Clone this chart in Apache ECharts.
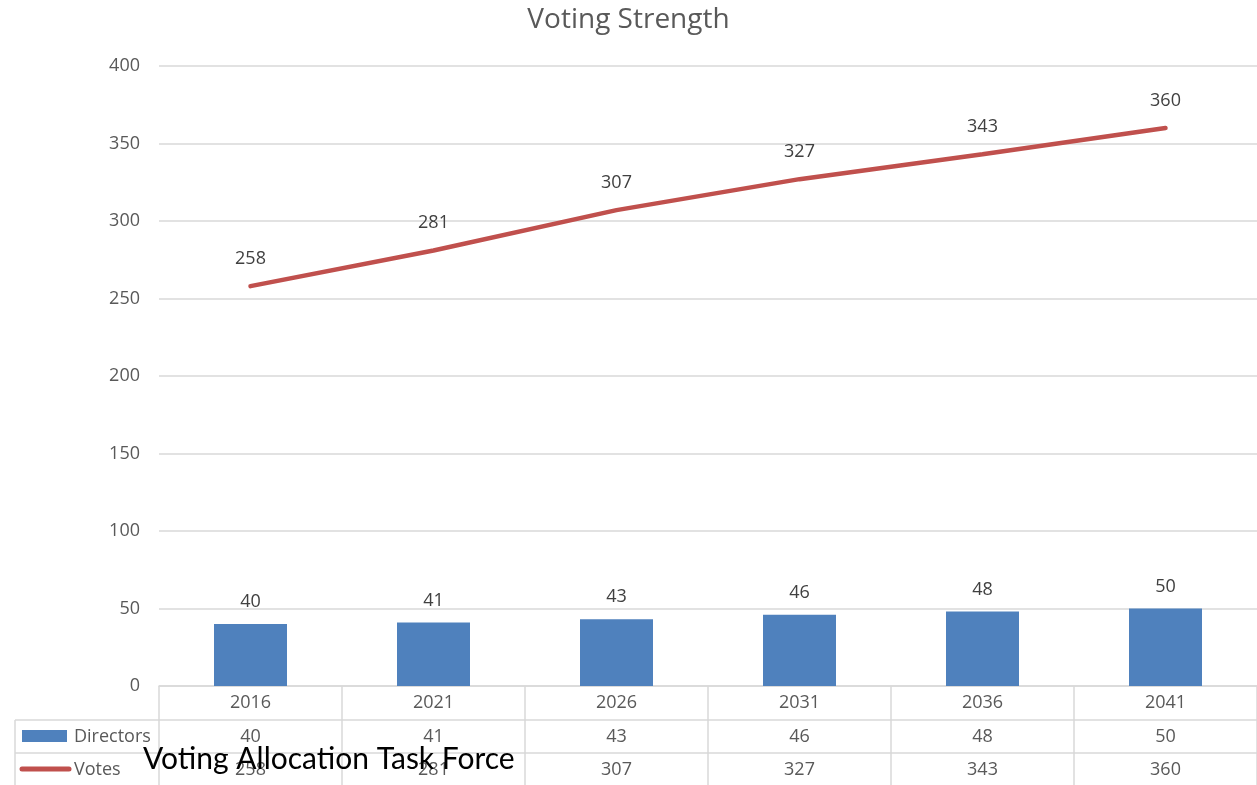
<!DOCTYPE html>
<html>
<head>
<meta charset="utf-8">
<script src="https://cdn.jsdelivr.net/npm/echarts@6/dist/echarts.min.js"></script>
<style>html,body{margin:0;padding:0;background:#fff}#c{width:1257px;height:785px}</style>
</head>
<body>
<div id="c"></div>
<script>
const years = ['2016', '2021', '2026', '2031', '2036', '2041'];
const directors = [40, 41, 43, 46, 48, 50];
const votes = [258, 281, 307, 327, 343, 360];
const yTicks = { min: 0, max: 400, interval: 50 };

const FONT = 'Open Sans';
const GRAY = '#595959';
const GRID = '#d9d9d9';
const BLUE = '#4F81BD';
const RED = '#C0504D';

const chart = echarts.init(document.getElementById('c'));

function rowAxis(labels, offset, tickLen, showLine) {
  return {
    type: 'category', position: 'bottom', gridIndex: 0, offset: offset,
    data: labels,
    axisLine: { show: showLine, lineStyle: { color: GRID, width: 1.5 } },
    axisTick: { show: true, length: tickLen, lineStyle: { color: GRID, width: 1.5 } },
    axisLabel: { margin: 8, color: GRAY, fontFamily: FONT, fontSize: 18 },
    splitLine: { show: false }
  };
}

chart.setOption({
  animation: false,
  title: {
    text: 'Voting Strength', left: 'center', top: 1,
    textStyle: { fontFamily: FONT, fontSize: 28, fontWeight: 'normal', color: GRAY }
  },
  grid: { left: 159, top: 66, width: 1100, bottom: 99, containLabel: false },
  xAxis: [
    rowAxis(years, 0, 34, true),
    rowAxis(directors.map(String), 34, 33, true),
    rowAxis(votes.map(String), 67, 33, true)
  ],
  yAxis: {
    type: 'value', min: yTicks.min, max: yTicks.max, interval: yTicks.interval,
    axisLine: { show: false }, axisTick: { show: false },
    axisLabel: { margin: 19, color: GRAY, fontFamily: FONT, fontSize: 18 },
    splitLine: { lineStyle: { color: GRID, width: 1.5 } }
  },
  series: [
    {
      name: 'Directors', type: 'bar', xAxisIndex: 0, data: directors,
      barWidth: 73, itemStyle: { color: BLUE },
      label: { show: true, position: 'top', distance: 13, color: '#404040', fontFamily: FONT, fontSize: 18 }
    },
    {
      name: 'Votes', type: 'line', xAxisIndex: 0, data: votes,
      symbol: 'circle', symbolSize: 1, showSymbol: true,
      itemStyle: { color: RED },
      lineStyle: { color: RED, width: 4.5, cap: 'round' },
      label: { show: true, position: 'top', distance: 18, color: '#404040', fontFamily: FONT, fontSize: 18 }
    }
  ],
  graphic: [
    { type: 'line', shape: { x1: 15, y1: 720, x2: 159, y2: 720 }, style: { stroke: GRID, lineWidth: 1.5 } },
    { type: 'line', shape: { x1: 15, y1: 753, x2: 159, y2: 753 }, style: { stroke: GRID, lineWidth: 1.5 } },
    { type: 'line', shape: { x1: 15, y1: 720, x2: 15, y2: 786 }, style: { stroke: GRID, lineWidth: 1.5 } },
    { type: 'rect', shape: { x: 22, y: 730, width: 45, height: 12 }, style: { fill: BLUE } },
    { type: 'line', shape: { x1: 22, y1: 769, x2: 69, y2: 769 }, style: { stroke: RED, lineWidth: 5, lineCap: 'round' } },
    { type: 'text', x: 74, y: 737, style: { text: 'Directors', fill: GRAY, font: '18px "Open Sans"', textVerticalAlign: 'middle' } },
    { type: 'text', x: 74, y: 770, style: { text: 'Votes', fill: GRAY, font: '18px "Open Sans"', textVerticalAlign: 'middle' } },
    { type: 'text', x: 143, y: 759, z: 100, style: { text: 'Voting Allocation Task Force', fill: '#000', font: '30px Lato', textVerticalAlign: 'middle' } }
  ]
});
</script>
</body>
</html>
